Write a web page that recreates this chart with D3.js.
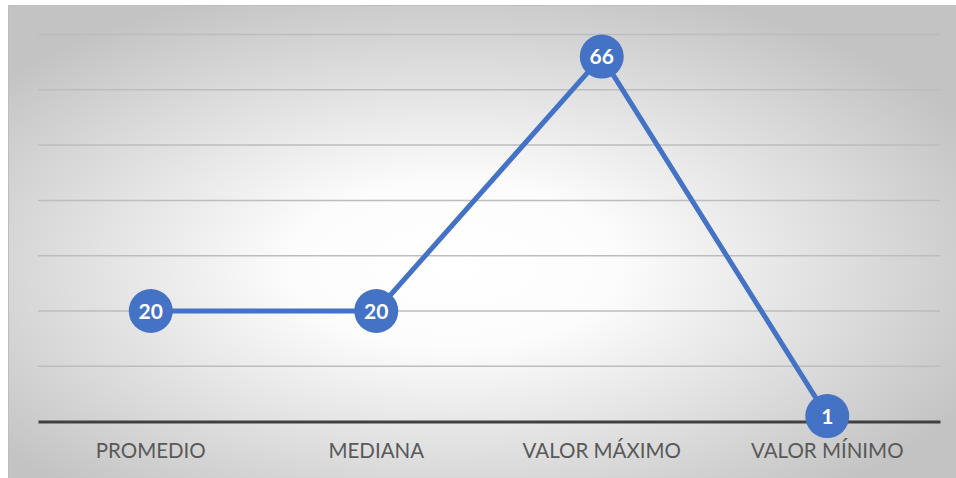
<!DOCTYPE html>
<html>
<head>
<meta charset="utf-8">
<script src="https://cdn.jsdelivr.net/npm/d3@7"></script>
<style>
  html, body { margin: 0; padding: 0; background: #ffffff; }
  svg { display: block; }
</style>
</head>
<body>
<svg id="chart" width="956" height="478"></svg>
<script>
// Summary statistics shown along the category axis
const categories = ["PROMEDIO", "MEDIANA", "VALOR MÁXIMO", "VALOR MÍNIMO"];
const values = [20, 20, 66, 1];
const gridTicks = [0, 10, 20, 30, 40, 50, 60, 70];

const svg = d3.select("#chart");
const W = 956, H = 478;
const plot = { left: 38, right: 940, top: 34.5, bottom: 421.6 };
const font = "Lato, 'Open Sans', 'Liberation Sans', sans-serif";

// Soft radial backdrop
const defs = svg.append("defs");
const grad = defs.append("radialGradient")
  .attr("id", "bg")
  .attr("cx", "47%").attr("cy", "55%").attr("r", "62%");
grad.append("stop").attr("offset", "0%").attr("stop-color", "#ffffff");
grad.append("stop").attr("offset", "28%").attr("stop-color", "#fcfcfc");
grad.append("stop").attr("offset", "100%").attr("stop-color", "#c3c3c3");

svg.append("rect")
  .attr("x", 8).attr("y", 5).attr("width", W - 8).attr("height", H - 5)
  .attr("fill", "url(#bg)");
svg.append("line")
  .attr("x1", 8).attr("x2", W).attr("y1", 5.5).attr("y2", 5.5)
  .attr("stroke", "#bdbdbd").attr("stroke-width", 1);
svg.append("line")
  .attr("x1", 8.5).attr("x2", 8.5).attr("y1", 5).attr("y2", H)
  .attr("stroke", "#bdbdbd").attr("stroke-width", 1);

const x = d3.scaleBand().domain(categories).range([plot.left, plot.right]);
const y = d3.scaleLinear().domain([0, 70]).range([plot.bottom, plot.top]);

// Horizontal gridlines
svg.append("g")
  .selectAll("line")
  .data(gridTicks.filter(t => t > 0))
  .join("line")
  .attr("x1", plot.left).attr("x2", plot.right)
  .attr("y1", d => y(d)).attr("y2", d => y(d))
  .attr("stroke", "#bdbdbd").attr("stroke-width", 1.5);

// Category axis
const xAxis = svg.append("g")
  .attr("transform", `translate(0,${y(0)})`)
  .call(d3.axisBottom(x).tickSize(0).tickPadding(22));
xAxis.select(".domain")
  .attr("stroke", "#404040").attr("stroke-width", 3);
xAxis.selectAll("text")
  .attr("fill", "#595959")
  .style("font-family", font)
  .style("font-size", "20.5px");

// Series line
const cx = d => x(d.cat) + x.bandwidth() / 2;
const data = categories.map((c, i) => ({ cat: c, v: values[i] }));

svg.append("path")
  .datum(data)
  .attr("fill", "none")
  .attr("stroke", "#4472c4")
  .attr("stroke-width", 5)
  .attr("stroke-linejoin", "round")
  .attr("d", d3.line().x(cx).y(d => y(d.v)));

// Markers with value labels
const pts = svg.append("g").selectAll("g").data(data).join("g")
  .attr("transform", d => `translate(${cx(d)},${y(d.v)})`);
pts.append("circle")
  .attr("r", 22)
  .attr("fill", "#4472c4");
pts.append("text")
  .attr("text-anchor", "middle")
  .attr("dy", "0.36em")
  .attr("fill", "#ffffff")
  .style("font-family", font)
  .style("font-weight", "bold")
  .style("font-size", "21px")
  .text(d => d.v);
</script>
</body>
</html>
